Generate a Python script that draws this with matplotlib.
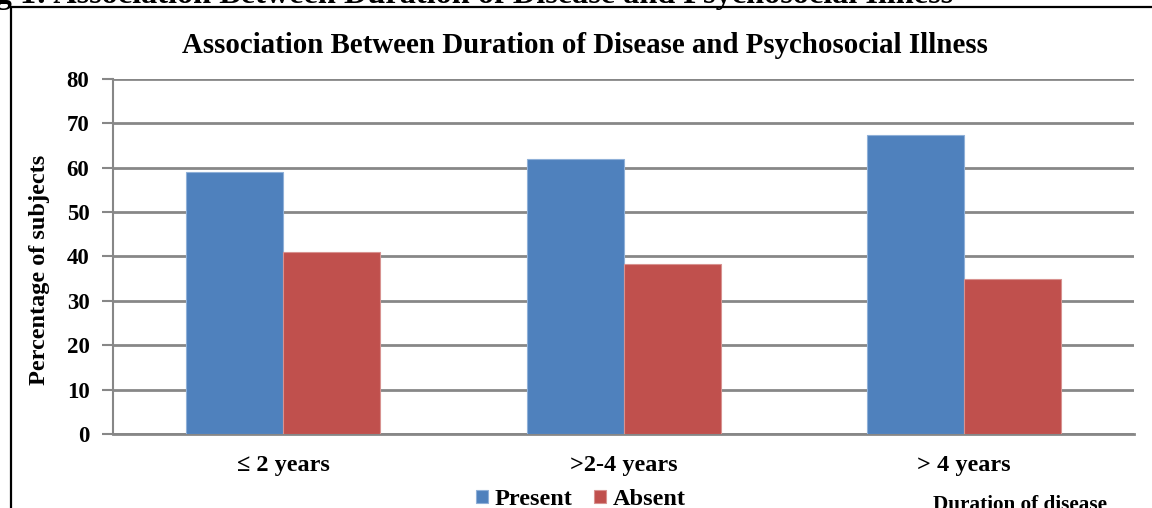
"""
Bar chart: association between duration of disease and psychosocial illness.
"""

import matplotlib.pyplot as plt
import numpy as np
from matplotlib.patches import Rectangle

plt.rcParams["font.family"] = ["Liberation Serif", "DejaVu Serif"]
plt.rcParams["font.weight"] = "bold"

categories = ["\u2264 2 years", ">2-4 years", "> 4 years"]
present = [59.1, 61.9, 67.4]
absent = [40.9, 38.2, 34.9]
y_ticks = [0, 10, 20, 30, 40, 50, 60, 70, 80]

BLUE = "#4F81BD"
RED = "#C0504D"
GRID = "#878787"


def main() -> None:
    fig = plt.figure(figsize=(11.52, 5.08), dpi=100)
    ax = fig.add_axes([0.0981, 0.1457, 0.8864, 0.6988])

    x = np.arange(len(categories))
    width = 0.285
    ax.bar(x - width / 2, present, width, color=BLUE, edgecolor="#8FB0D8",
           linewidth=0.8, label="Present", zorder=3)
    ax.bar(x + width / 2, absent, width, color=RED, edgecolor="#D89290",
           linewidth=0.8, label="Absent", zorder=3)

    ax.set_xlim(-0.5, len(categories) - 0.5)
    ax.set_ylim(0, 80)
    ax.set_yticks(y_ticks)
    ax.set_yticklabels([str(t) for t in y_ticks], fontsize=16.5, fontweight="bold")
    ax.set_xticks(x)
    ax.set_xticklabels(categories, fontsize=17.5, fontweight="bold")
    ax.tick_params(axis="y", length=8, width=1.5, color=GRID, pad=9)
    ax.tick_params(axis="x", length=0, pad=15)

    ax.yaxis.grid(True, color=GRID, linewidth=2)
    ax.set_axisbelow(True)
    for side in ["top", "right"]:
        ax.spines[side].set_visible(False)
    ax.spines["left"].set_color(GRID)
    ax.spines["left"].set_linewidth(1.5)
    ax.spines["bottom"].set_color(GRID)
    ax.spines["bottom"].set_linewidth(2)

    fig.text(0.0347, 0.4685, "Percentage of subjects", rotation=90, ha="center",
             va="center", fontsize=17.5, fontweight="bold")

    fig.text(0.508, 0.911, "Association Between Duration of Disease and Psychosocial Illness",
             ha="center", va="center", fontsize=20.8, fontweight="bold")

    # caption of the page above the chart frame, clipped by the figure edge
    fig.text(0.827, 0.994, "Fig 1: Association Between Duration of Disease and Psychosocial Illness",
             ha="right", va="baseline", fontsize=23.2, fontweight="bold")

    # chart frame
    fig.add_artist(Rectangle((0.0095, -0.1), 1.2, 1.086, transform=fig.transFigure,
                             fill=False, edgecolor="black", linewidth=1.6))

    ax.legend(loc="center", bbox_to_anchor=(0.458, -0.185), ncol=2, frameon=False,
              fontsize=17.5, handlelength=0.5, handleheight=0.5, handletextpad=0.25,
              columnspacing=0.9, borderaxespad=0)

    fig.text(0.885, -0.003, "Duration of disease", ha="center", va="baseline",
             fontsize=15.3, fontweight="bold")

    fig.savefig("out.png", dpi=100)
    plt.close(fig)


if __name__ == "__main__":
    main()
